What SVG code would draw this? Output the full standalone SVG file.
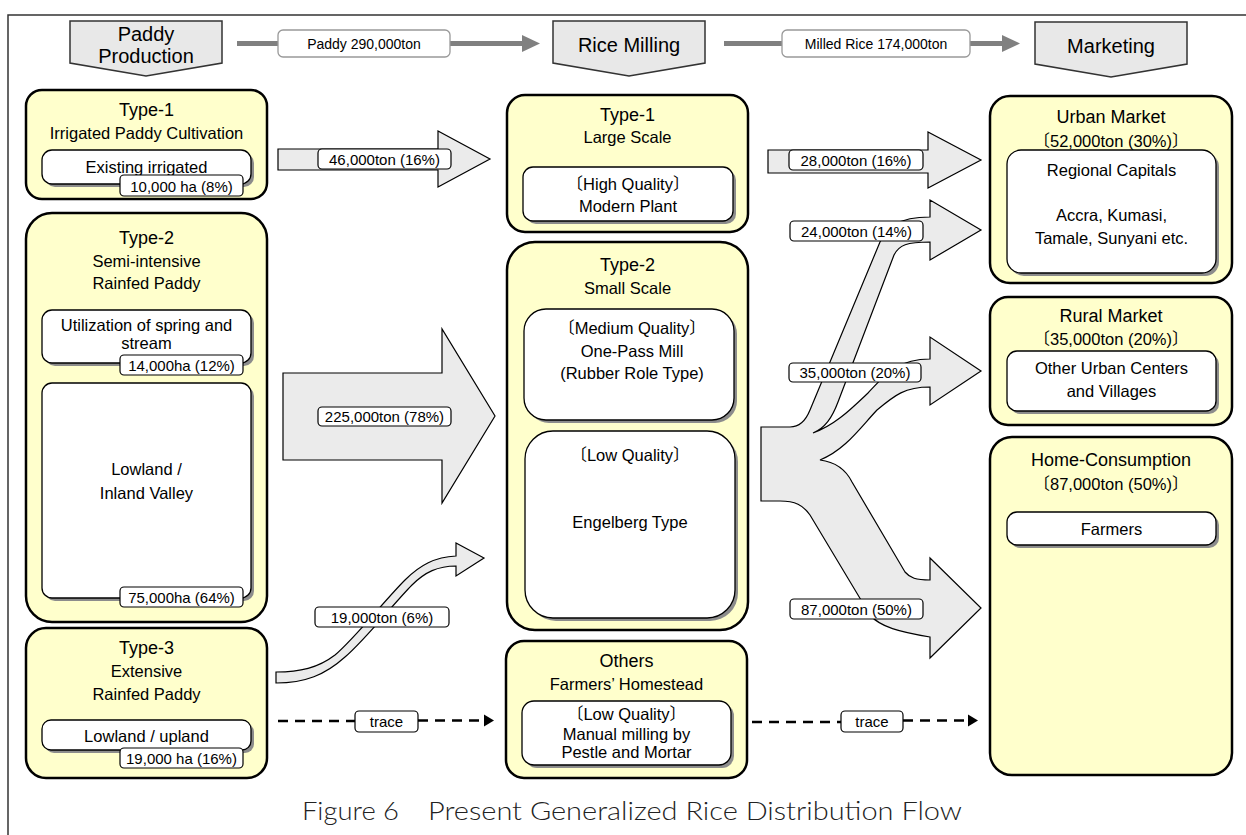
<svg xmlns="http://www.w3.org/2000/svg" width="1246" height="835" viewBox="0 0 1246 835">
<style>
.outer{fill:#ffffcc;stroke:#000;stroke-width:2.5}
.inner{fill:#fff;stroke:#000;stroke-width:1.3}
.shadow{fill:#8c8c8c}
.tag{fill:#fff;stroke:#000;stroke-width:1.2}
.blk{fill:#ebebeb;stroke:#000;stroke-width:1.2}
.hdr{fill:#e8e8e8;stroke:#333;stroke-width:1.5}
.glab{fill:#fff;stroke:#999;stroke-width:1.3}
.gline{stroke:#808080;stroke-width:5;fill:none}
.garr{fill:#808080}
.dash{stroke:#000;stroke-width:2.5;stroke-dasharray:10 7;fill:none}
text{font-family:"Liberation Sans","Noto Sans CJK JP",Arial,sans-serif;text-anchor:middle;fill:#000}
.f20{font-size:20px}.f18{font-size:18px}.f17{font-size:16.5px}.f15{font-size:15px}.f14{font-size:14px}
.cap{font-family:"Lato","Liberation Sans",sans-serif;font-weight:300;font-size:26px;text-anchor:start;fill:#222}
</style>
<rect width="1246" height="835" fill="#fff"/>
<path d="M8,835 V15 H1246" fill="none" stroke="#333" stroke-width="1.5"/>

<g id="connectors">
  <!-- top flow -->
  <line class="gline" x1="237" y1="43.5" x2="278" y2="43.5"/>
  <line class="gline" x1="450" y1="43.5" x2="524" y2="43.5"/>
  <path class="garr" d="M522,35 L540,43.5 L522,52 Z"/>
  <rect class="glab" x="278" y="30" width="172" height="27" rx="5"/>
  <text class="f14" x="364" y="48.5">Paddy 290,000ton</text>
  <line class="gline" x1="724" y1="43.5" x2="782" y2="43.5"/>
  <line class="gline" x1="970" y1="43.5" x2="1004" y2="43.5"/>
  <path class="garr" d="M1002,35 L1020,43.5 L1002,52 Z"/>
  <rect class="glab" x="782" y="30" width="188" height="27" rx="5"/>
  <text class="f14" x="876" y="48.5">Milled Rice 174,000ton</text>

  <!-- 46,000 -->
  <path class="blk" d="M278,149 H438 V131 L490,159 L438,187 V170 H278 Z"/>
  <rect class="tag" x="318" y="149" width="133" height="20" rx="4"/>
  <text class="f15" x="384.5" y="165">46,000ton (16%)</text>

  <!-- 28,000 -->
  <path class="blk" d="M768,150 H928 V132 L981,160 L928,188 V173 H768 Z"/>
  <rect class="tag" x="789" y="150" width="134" height="20" rx="4"/>
  <text class="f15" x="856" y="166">28,000ton (16%)</text>

  <!-- 225,000 -->
  <path class="blk" d="M283,373 H442 V329 L495,416 L442,503 V460 H283 Z"/>
  <rect class="tag" x="318" y="407" width="133" height="19" rx="4"/>
  <text class="f15" x="384.5" y="422">225,000ton (78%)</text>

  <!-- 19,000 S arrow -->
  <path class="blk" d="M276,672 C300,672 318,668 335,655 C355,638 385,600 405,580 C420,565 435,557 456,556 L456,543 L484,558 L456,576 L456,566 C438,566 425,572 412,585 C395,602 365,640 345,657 C325,675 305,683 276,683 Z"/>
  <rect class="tag" x="315" y="607" width="134" height="20" rx="4"/>
  <text class="f15" x="382" y="623">19,000ton (6%)</text>

  <!-- fan-out -->
  <path class="blk" d="M761,501 L761,427 L790,427 C800,427 806,420 810,410 L880,242 C887,228 897,217 930,217 L930,200 L981,230 L930,260 L930,242 C907,242 899,245 894,255 L838,402 C832,418 825,428 813,433 C835,425 850,410 868,393 C885,375 897,359 930,359 L930,337 L981,371 L930,405 L930,387 C905,387 895,395 877,410 C860,428 845,450 820,460 C836,462 846,470 852,482 L905,572 C910,578 916,580 930,580 L930,558 L981,608 L930,658 L930,637 C900,632 880,627 870,615 L810,515 C803,505 795,501 780,501 Z"/>
  <rect class="tag" x="790" y="221" width="133" height="20" rx="4"/>
  <text class="f15" x="856.5" y="237">24,000ton (14%)</text>
  <rect class="tag" x="789" y="363" width="132" height="19" rx="4"/>
  <text class="f15" x="855" y="378">35,000ton (20%)</text>
  <rect class="tag" x="790" y="599" width="133" height="20" rx="4"/>
  <text class="f15" x="856.5" y="615">87,000ton (50%)</text>

  <!-- trace arrows -->
  <line class="dash" x1="278" y1="721" x2="355" y2="721"/>
  <line class="dash" x1="418" y1="720.5" x2="486" y2="720.5"/>
  <path d="M484,714.5 L494,720.5 L484,726.5 Z" fill="#000"/>
  <rect class="tag" x="355" y="711" width="63" height="21" rx="4"/>
  <text class="f15" x="386.5" y="727">trace</text>
  <line class="dash" x1="752" y1="722" x2="841" y2="722"/>
  <line class="dash" x1="903" y1="720.5" x2="970" y2="720.5"/>
  <path d="M968,714.5 L978,720.5 L968,726.5 Z" fill="#000"/>
  <rect class="tag" x="841" y="711" width="62" height="21" rx="4"/>
  <text class="f15" x="872" y="727">trace</text>
</g>

<!-- headers -->
<g id="hdr-paddy">
  <path class="hdr" d="M70,21 H222 V63 L146,76 L70,63 Z"/>
  <text class="f20" x="146" y="41">Paddy</text>
  <text class="f20" x="146" y="63">Production</text>
</g>
<g id="hdr-milling">
  <path class="hdr" d="M553,21 H705 V63 L629,76 L553,63 Z"/>
  <text class="f20" x="629" y="52">Rice Milling</text>
</g>
<g id="hdr-marketing">
  <path class="hdr" d="M1035,22 H1187 V64 L1111,77 L1035,64 Z"/>
  <text class="f20" x="1111" y="53">Marketing</text>
</g>

<!-- left column -->
<g id="prod-type1">
  <rect class="outer" x="26" y="90" width="241" height="109" rx="16"/>
  <text class="f18" x="146.5" y="116">Type-1</text>
  <text class="f17" x="146.5" y="139">Irrigated Paddy Cultivation</text>
  <rect class="shadow" x="45" y="153" width="209" height="34" rx="10"/>
  <rect class="inner" x="42" y="150" width="209" height="34" rx="10"/>
  <text class="f17" x="146.5" y="173">Existing irrigated</text>
  <rect class="tag" x="120" y="175" width="123" height="21" rx="4"/>
  <text class="f15" x="181.5" y="191.5">10,000 ha (8%)</text>
</g>
<g id="prod-type2">
  <rect class="outer" x="26" y="213" width="241" height="409" rx="26"/>
  <text class="f18" x="146.5" y="244">Type-2</text>
  <text class="f17" x="146.5" y="267">Semi-intensive</text>
  <text class="f17" x="146.5" y="289">Rainfed Paddy</text>
  <rect class="shadow" x="45" y="313" width="209" height="53" rx="10"/>
  <rect class="inner" x="42" y="310" width="209" height="53" rx="10"/>
  <text class="f17" x="146.5" y="331">Utilization of spring and</text>
  <text class="f17" x="146.5" y="349">stream</text>
  <rect class="tag" x="120" y="355" width="123" height="20" rx="4"/>
  <text class="f15" x="181.5" y="371">14,000ha (12%)</text>
  <rect class="shadow" x="45" y="386" width="209" height="215" rx="10"/>
  <rect class="inner" x="42" y="383" width="209" height="215" rx="10"/>
  <text class="f17" x="146.5" y="475">Lowland /</text>
  <text class="f17" x="146.5" y="499">Inland Valley</text>
  <rect class="tag" x="120" y="587" width="123" height="20" rx="4"/>
  <text class="f15" x="181.5" y="603">75,000ha (64%)</text>
</g>
<g id="prod-type3">
  <rect class="outer" x="26" y="628" width="241" height="150" rx="20"/>
  <text class="f18" x="146.5" y="654">Type-3</text>
  <text class="f17" x="146.5" y="677">Extensive</text>
  <text class="f17" x="146.5" y="700">Rainfed Paddy</text>
  <rect class="shadow" x="45" y="723" width="209" height="30" rx="9"/>
  <rect class="inner" x="42" y="720" width="209" height="30" rx="9"/>
  <text class="f17" x="146.5" y="742">Lowland / upland</text>
  <rect class="tag" x="120" y="748" width="123" height="20" rx="4"/>
  <text class="f15" x="181.5" y="764">19,000 ha (16%)</text>
</g>

<!-- middle column -->
<g id="mill-type1">
  <rect class="outer" x="507" y="95" width="241" height="137" rx="18"/>
  <text class="f18" x="627.5" y="121">Type-1</text>
  <text class="f17" x="627.5" y="143">Large Scale</text>
  <rect class="shadow" x="526" y="170" width="210" height="54" rx="10"/>
  <rect class="inner" x="523" y="167" width="210" height="54" rx="10"/>
  <text class="f17" x="628" y="190">〔High Quality〕</text>
  <text class="f17" x="628" y="212">Modern Plant</text>
</g>
<g id="mill-type2">
  <rect class="outer" x="507" y="242" width="241" height="388" rx="28"/>
  <text class="f18" x="627.5" y="271">Type-2</text>
  <text class="f17" x="627.5" y="294">Small Scale</text>
  <rect class="shadow" x="527" y="312" width="210" height="111" rx="22"/>
  <rect class="inner" x="524" y="309" width="210" height="111" rx="22"/>
  <text class="f17" x="632" y="334">〔Medium Quality〕</text>
  <text class="f17" x="632" y="357">One-Pass Mill</text>
  <text class="f17" x="632" y="379">(Rubber Role Type)</text>
  <rect class="shadow" x="528" y="434" width="210" height="187" rx="28"/>
  <rect class="inner" x="525" y="431" width="210" height="187" rx="28"/>
  <text class="f17" x="630" y="461">〔Low Quality〕</text>
  <text class="f17" x="630" y="528">Engelberg Type</text>
</g>
<g id="mill-others">
  <rect class="outer" x="506" y="641" width="241" height="137" rx="18"/>
  <text class="f18" x="626.5" y="667">Others</text>
  <text class="f17" x="626.5" y="690">Farmers’ Homestead</text>
  <rect class="shadow" x="525" y="704" width="209" height="64" rx="12"/>
  <rect class="inner" x="522" y="701" width="209" height="64" rx="12"/>
  <text class="f17" x="626.5" y="720">〔Low Quality〕</text>
  <text class="f17" x="626.5" y="740">Manual milling by</text>
  <text class="f17" x="626.5" y="758">Pestle and Mortar</text>
</g>

<!-- right column -->
<g id="mkt-urban">
  <rect class="outer" x="990" y="96" width="242" height="187" rx="20"/>
  <text class="f18" x="1111" y="123">Urban Market</text>
  <text class="f17" x="1111" y="147">〔52,000ton (30%)〕</text>
  <rect class="shadow" x="1010" y="153" width="209" height="123" rx="14"/>
  <rect class="inner" x="1007" y="150" width="209" height="123" rx="14"/>
  <text class="f17" x="1111.5" y="176">Regional Capitals</text>
  <text class="f17" x="1111.5" y="221">Accra, Kumasi,</text>
  <text class="f17" x="1111.5" y="244">Tamale, Sunyani etc.</text>
</g>
<g id="mkt-rural">
  <rect class="outer" x="990" y="297" width="242" height="128" rx="18"/>
  <text class="f18" x="1111" y="322">Rural Market</text>
  <text class="f17" x="1111" y="345">〔35,000ton (20%)〕</text>
  <rect class="shadow" x="1010" y="354" width="209" height="60" rx="10"/>
  <rect class="inner" x="1007" y="351" width="209" height="60" rx="10"/>
  <text class="f17" x="1111.5" y="374">Other Urban Centers</text>
  <text class="f17" x="1111.5" y="397">and Villages</text>
</g>
<g id="mkt-home">
  <rect class="outer" x="990" y="437" width="242" height="338" rx="22"/>
  <text class="f18" x="1111" y="466">Home-Consumption</text>
  <text class="f17" x="1111" y="490">〔87,000ton (50%)〕</text>
  <rect class="shadow" x="1010" y="515" width="209" height="33" rx="10"/>
  <rect class="inner" x="1007" y="512" width="209" height="33" rx="10"/>
  <text class="f17" x="1111.5" y="535">Farmers</text>
</g>

<g id="caption">
  <text class="cap" x="302" y="820" textLength="97" lengthAdjust="spacingAndGlyphs">Figure 6</text>
  <text class="cap" x="428" y="820" textLength="534" lengthAdjust="spacingAndGlyphs">Present Generalized Rice Distribution Flow</text>
</g>
</svg>
